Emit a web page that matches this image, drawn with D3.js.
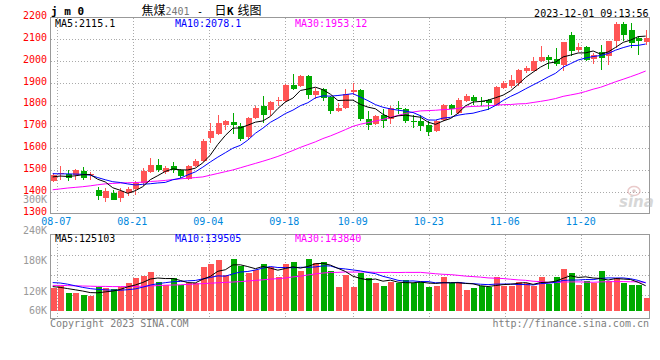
<!DOCTYPE html>
<html>
<head>
<meta charset="utf-8">
<script src="https://d3js.org/d3.v7.min.js"></script>
<style>
body { margin: 0; background: #fff; }
svg { display: block; }
text { font-family: "DejaVu Sans Mono", "Liberation Mono", monospace; font-size: 10px; }
.cjk { font-family: "Noto Sans CJK SC", sans-serif; font-size: 12px; }
</style>
</head>
<body>
<div id="chart"></div>
<script>
// trading days shown (08-04 .. 12-01, national day holiday skipped)
var dates = ["08-04","08-07","08-08","08-09","08-10","08-11","08-14","08-15","08-16","08-17",
  "08-18","08-21","08-22","08-23","08-24","08-25","08-28","08-29","08-30","08-31",
  "09-01","09-04","09-05","09-06","09-07","09-08","09-11","09-12","09-13","09-14",
  "09-15","09-18","09-19","09-20","09-21","09-22","09-25","09-26","09-27","09-28",
  "10-09","10-10","10-11","10-12","10-13","10-16","10-17","10-18","10-19","10-20",
  "10-23","10-24","10-25","10-26","10-27","10-30","10-31","11-01","11-02","11-03",
  "11-06","11-07","11-08","11-09","11-10","11-13","11-14","11-15","11-16","11-17",
  "11-20","11-21","11-22","11-23","11-24","11-27","11-28","11-29","11-30","12-01"];

var open = [1448,1481,1482,1476,1497,1477,1410,1372,1392,1369,
  1394,1412,1440,1489,1524,1490,1520,1498,1457,1517,
  1540,1648,1667,1706,1722,1704,1652,1740,1792,1774,
  1815,1815,1891,1884,1930,1843,1872,1835,1770,1786,
  1857,1866,1734,1713,1751,1735,1784,1782,1726,1727,
  1705,1678,1731,1800,1762,1815,1835,1818,1823,1798,
  1878,1886,1900,1953,1956,1999,2017,2011,1981,2120,
  2052,2066,2009,2041,2021,2094,2172,2142,2107,2087];
var high = [1485,1520,1501,1505,1514,1492,1422,1416,1410,1417,
  1423,1448,1509,1555,1550,1518,1535,1506,1525,1548,
  1642,1716,1754,1731,1760,1715,1744,1795,1838,1816,
  1836,1896,1942,1935,1937,1876,1876,1838,1808,1872,
  1897,1870,1769,1754,1780,1792,1815,1785,1754,1754,
  1724,1731,1803,1803,1830,1849,1846,1835,1826,1884,
  1908,1938,1962,1976,2017,2070,2026,2062,2089,2135,
  2082,2070,2039,2074,2094,2180,2180,2173,2117,2142];
var low = [1445,1456,1451,1453,1456,1455,1364,1352,1361,1355,
  1382,1385,1425,1484,1490,1483,1488,1464,1452,1513,
  1536,1624,1662,1682,1665,1632,1640,1733,1717,1746,
  1792,1810,1868,1881,1826,1828,1815,1759,1766,1780,
  1845,1725,1682,1708,1693,1713,1759,1716,1693,1678,
  1658,1673,1727,1754,1759,1810,1800,1792,1777,1795,
  1870,1877,1885,1945,1953,1995,1964,1976,1956,2021,
  2041,1998,1986,1961,1983,2059,2092,2059,2026,2074];
var close = [1479,1488,1463,1498,1463,1483,1379,1402,1364,1405,
  1413,1440,1494,1524,1498,1510,1499,1472,1520,1540,
  1632,1678,1716,1726,1706,1640,1740,1785,1754,1810,
  1822,1890,1873,1930,1843,1864,1832,1770,1785,1850,
  1866,1733,1708,1747,1724,1785,1778,1724,1722,1701,
  1673,1727,1800,1780,1823,1841,1815,1814,1808,1880,
  1900,1915,1960,1968,2002,2017,2004,1986,2086,2044,
  2066,2006,2029,2014,2094,2172,2120,2082,2093,2106];

// price moving averages as drawn
var ma5 = [1468,1472,1470,1473,1478.2,1479,1457.2,1445,1418.2,1406.6,
  1392.6,1404.8,1423.2,1455.2,1473.8,1493.2,1505,1500.6,1499.8,1508.2,
  1532.6,1568.4,1617.2,1658.4,1691.6,1693.2,1705.6,1719.4,1725,1745.8,
  1782.2,1812.2,1829.8,1865,1871.6,1880,1868.4,1847.8,1818.8,1820.2,
  1820.6,1800.8,1788.4,1780.8,1755.6,1739.4,1748.4,1751.6,1746.6,1742,
  1719.6,1709.4,1724.6,1736.2,1760.6,1794.2,1811.8,1814.6,1820.2,1831.6,
  1843.4,1863.4,1892.6,1924.6,1949,1972.4,1990.2,1995.4,2019,2027.4,
  2037.2,2037.6,2046.2,2031.8,2041.8,2063,2085.8,2096.4,2112.2,2114.6];
var ma10 = [1483,1482,1482,1481,1480,1476,1465,1455,1446,1442.4,
  1435.8,1431,1434.1,1436.7,1440.2,1442.9,1454.9,1461.9,1477.5,1491,
  1512.9,1536.7,1558.9,1579.1,1599.9,1612.9,1637,1668.3,1691.7,1718.7,
  1737.7,1758.9,1774.6,1795,1808.7,1831.1,1840.3,1838.8,1841.9,1845.9,
  1850.3,1834.6,1818.1,1799.8,1787.9,1780,1774.6,1770,1763.7,1748.8,
  1729.5,1728.9,1738.1,1741.4,1751.3,1756.9,1760.6,1769.6,1778.2,1796.1,
  1818.8,1837.6,1853.6,1872.4,1890.3,1907.9,1926.8,1944,1971.8,1988.2,
  2004.8,2013.9,2020.8,2025.4,2034.6,2050.1,2061.7,2071.3,2072,2078.2];
var ma30 = [1409,1413,1417,1420,1423,1427,1432,1436,1438,1440,
  1441,1442,1444,1447,1449,1452,1456,1459,1462,1465,
  1468,1476,1484,1492,1500,1510,1520,1530,1540,1550.7,
  1562.1,1575.5,1589.2,1603.6,1616.3,1629,1644.1,1656.3,1670.4,1685.2,
  1700.3,1710.1,1717.2,1724.6,1732.2,1741.3,1750.6,1759,1765.8,1771.1,
  1772.5,1774.1,1776.9,1778.7,1782.6,1789.3,1791.8,1792.8,1794.6,1796.9,
  1799.5,1800.4,1803.3,1804.5,1809.8,1814.9,1820.7,1827.9,1837.9,1844.4,
  1851,1860.1,1870.8,1879.7,1892.1,1905,1916.4,1928.3,1940.7,1954.2];

// volume in thousands
var volume = [115,125,90,90,79,76,120,113,110,120,
  142,165,176,196,146,128,166,128,142,138,
  221,237,255,180,260,223,192,203,235,218,
  172,235,245,202,260,240,245,200,122,181,
  122,188,167,142,127,147,138,155,138,147,
  122,127,172,138,147,105,117,125,118,172,
  127,127,147,138,127,172,135,172,210,192,
  130,150,142,200,152,167,138,130,130,67];
var volMa5 = [122,118,112,106,99.8,92,91,95.6,99.6,107.8,
  121,130,142.6,159.8,165,162.2,162.4,152.8,142,140.4,
  159,173.2,198.6,206.2,230.6,231,222,211.6,222.6,214.2,
  204,212.6,221,214.4,222.8,236.4,238.4,229.4,213.4,197.6,
  174,162.6,156,160,149.2,154.2,144.2,141.8,141,145,
  140,137.8,141.2,141.2,141.2,137.8,135.8,126.4,122.4,127.4,
  131.8,133.8,138.2,142.2,133.2,142.2,143.8,148.8,163.2,176.2,
  167.8,170.8,164.8,162.8,154.8,162.2,159.8,157.4,143.4,126.4];
var volMa10 = [142,140,134,126,118,112,108,106,104,103.8,
  106.5,110.5,119.1,129.7,136.4,141.6,146.2,147.7,150.9,152.7,
  160.6,167.8,175.7,174.1,185.5,195,197.6,205.1,214.4,222.4,
  217.5,217.3,216.3,218.5,218.5,220.2,225.5,225.2,213.9,210.2,
  205.2,200.5,192.7,186.7,173.4,164.1,153.4,148.9,150.5,147.1,
  147.1,141,141.5,141.1,143.1,138.9,136.8,133.8,131.8,134.3,
  134.8,134.8,132.3,132.3,130.3,137,138.8,143.5,152.7,154.7,
  155,157.3,156.8,163,165.5,165,165.3,161.1,153.1,140.6];
var volMa30 = [128,128,127,126,125,124,123,123,122,122,
  122,123,124,125,127,129,130,131,133,135,
  137,139,141,143,145,147,150,153,156,159.6,
  161.5,165.2,170.4,174.1,180.1,185.6,189.8,192.7,193.1,195.1,
  194.4,195.2,194.9,193.1,192.5,193.1,192.2,193.1,192.9,193.2,
  189.9,186.3,183.5,182.1,178.3,174.4,171.9,169.3,165.4,163.9,
  162.4,158.8,155.5,153.4,148.9,146.7,143,142.1,145,145.4,
  145.6,144.4,143.5,145.5,146.3,147,147,146.1,145.9,143.2];

var priceTicks = [2200,2100,2000,1900,1800,1700,1600,1500,1400,1300];
var dateTicks = ["08-07","08-21","09-04","09-18","10-09","10-23","11-06","11-20"];
var volTicks = [300,240,180,120,60];
var volGrid = [255,275,295];

var col = { up: "#ff5555", down: "#00aa00", grid: "#aaaaaa", frame: "#999999",
  ma5: "#000000", ma10: "#0000ff", ma30: "#ff00ff" };

var svg = d3.select("#chart").append("svg")
  .attr("width", 660)
  .attr("height", 360);

// panels
var L = 50.5, R = 649.5;
var pTop = 17.5, pBot = 213.5, vTop = 234.5, vBot = 318.5;

var x = d3.scaleBand().domain(dates).range([48.95, 649.43]);
var xc = function(d) { return x(d) + x.bandwidth() / 2; };
// sina spaces its date grid a little wider than its candles
var xGrid = d3.scaleLinear().domain([0, dates.length - 1]).range([49.7, 650.1]);
var y = d3.scaleLinear().domain([1300, 2200]).range([pBot, pTop]);
var yv = d3.scaleLinear().domain([0, 380]).range([311, 235]);
var yvLabel = d3.scaleLinear().domain([120, 300]).range([291.3, 200]);

// grid lines
var grid = svg.append("g")
  .attr("stroke", col.grid)
  .attr("stroke-dasharray", "1,2")
  .attr("shape-rendering", "crispEdges");

priceTicks.slice(1, -1).forEach(function(t) {
  grid.append("line").attr("x1", L).attr("x2", R)
    .attr("y1", Math.round(y(t)) + 0.5).attr("y2", Math.round(y(t)) + 0.5);
});
volGrid.forEach(function(g) {
  grid.append("line").attr("x1", L).attr("x2", R).attr("y1", g + 0.5).attr("y2", g + 0.5);
});
dateTicks.forEach(function(d) {
  var gx = Math.floor(xGrid(dates.indexOf(d))) + 0.5;
  grid.append("line").attr("x1", gx).attr("x2", gx).attr("y1", pTop).attr("y2", pBot + 2);
  grid.append("line").attr("x1", gx).attr("x2", gx).attr("y1", vTop).attr("y2", vBot);
});

// frames
[[pTop, pBot], [vTop, vBot]].forEach(function(p) {
  svg.append("rect")
    .attr("x", L).attr("y", p[0])
    .attr("width", R - L).attr("height", p[1] - p[0])
    .attr("fill", "none")
    .attr("stroke", col.frame)
    .attr("shape-rendering", "crispEdges");
});

// candles
var data = dates.map(function(d, i) {
  return { date: d, o: open[i], h: high[i], l: low[i], c: close[i], v: volume[i] };
});

var candles = svg.append("g").attr("shape-rendering", "crispEdges");
data.forEach(function(d) {
  var cx = Math.round(xc(d.date));
  var color = d.c >= d.o ? col.up : col.down;
  candles.append("line")
    .attr("x1", cx + 0.5).attr("x2", cx + 0.5)
    .attr("y1", y(d.h)).attr("y2", y(d.l))
    .attr("stroke", color);
  var top = y(Math.max(d.o, d.c)), bot = y(Math.min(d.o, d.c));
  candles.append("rect")
    .attr("x", cx - 2.5).attr("y", top)
    .attr("width", 6).attr("height", Math.max(1, bot - top))
    .attr("fill", color);
  // volume bar
  candles.append("rect")
    .attr("x", cx - 2.5).attr("y", yv(d.v))
    .attr("width", 6).attr("height", yv(0) - yv(d.v))
    .attr("fill", color);
});

// moving average lines
function maLine(values, yScale, color) {
  var line = d3.line()
    .x(function(v, i) { return xc(dates[i]); })
    .y(function(v) { return yScale(v); });
  svg.append("path")
    .attr("d", line(values))
    .attr("fill", "none")
    .attr("stroke", color)
    .attr("stroke-width", 1);
}
maLine(ma30, y, col.ma30);
maLine(ma10, y, col.ma10);
maLine(ma5, y, col.ma5);
maLine(volMa30, yv, col.ma30);
maLine(volMa10, yv, col.ma10);
maLine(volMa5, yv, col.ma5);

// axis labels
priceTicks.forEach(function(t) {
  svg.append("text").attr("x", 47).attr("y", y(t) + 1.8)
    .attr("text-anchor", "end").attr("fill", "#ff0000").text(t);
});
dateTicks.forEach(function(d) {
  svg.append("text").attr("x", xGrid(dates.indexOf(d)) - 1).attr("y", 225)
    .attr("text-anchor", "middle").attr("fill", "#0088dd").text(d);
});
volTicks.forEach(function(t) {
  svg.append("text").attr("x", 47).attr("y", Math.min(yvLabel(t), 311) + 3.3)
    .attr("text-anchor", "end").attr("fill", "#999999").text(t + "K");
});

// legends
var legend = [
  { y: 27, items: [["MA5:2115.1", 55, col.ma5], ["MA10:2078.1", 175, col.ma10], ["MA30:1953.12", 295, col.ma30]] },
  { y: 241.5, items: [["MA5:125103", 55, col.ma5], ["MA10:139505", 175, col.ma10], ["MA30:143840", 295, col.ma30]] }
];
legend.forEach(function(row) {
  row.items.forEach(function(it) {
    svg.append("text").attr("x", it[1]).attr("y", row.y).attr("fill", it[2]).text(it[0]);
  });
});

// title row
svg.append("text").attr("x", 51).attr("y", 14.5)
  .attr("font-weight", "bold").style("font-size", "11px").text("j m 0");
svg.append("text").attr("class", "cjk").attr("x", 141.5).attr("y", 15).text("焦煤");
svg.append("text").attr("x", 165.5).attr("y", 14.5).attr("fill", "#777").text("2401");
svg.append("text").attr("x", 197).attr("y", 14.5).text("-");
svg.append("text").attr("class", "cjk").attr("x", 214.5).attr("y", 15).text("日");
svg.append("text").attr("x", 227).attr("y", 14.5).attr("font-weight", "bold").style("font-size", "11px").text("K");
svg.append("text").attr("class", "cjk").attr("x", 237.5).attr("y", 15).text("线图");
svg.append("text").attr("x", 648.5).attr("y", 16.5).attr("text-anchor", "end")
  .text("2023-12-01 09:13:56");

// footer
svg.append("text").attr("x", 50).attr("y", 327).attr("fill", "#808080").text("Copyright 2023 SINA.COM");
svg.append("text").attr("x", 649).attr("y", 327).attr("text-anchor", "end")
  .attr("fill", "#808080").text("http://finance.sina.com.cn");

// sina watermark
var mark = svg.append("g").attr("opacity", 0.55);
mark.append("ellipse").attr("cx", 634).attr("cy", 191).attr("rx", 6).attr("ry", 4.5)
  .attr("fill", "none").attr("stroke", "#d9a0a0").attr("stroke-width", 1.5);
mark.append("circle").attr("cx", 634).attr("cy", 191).attr("r", 1.8).attr("fill", "#c8a0a0");
mark.append("text").attr("x", 619).attr("y", 207)
  .style("font-family", "DejaVu Sans, sans-serif").style("font-size", "15px")
  .style("font-style", "italic").style("font-weight", "bold")
  .attr("fill", "#b8b8b8").text("sina");
</script>
</body>
</html>
